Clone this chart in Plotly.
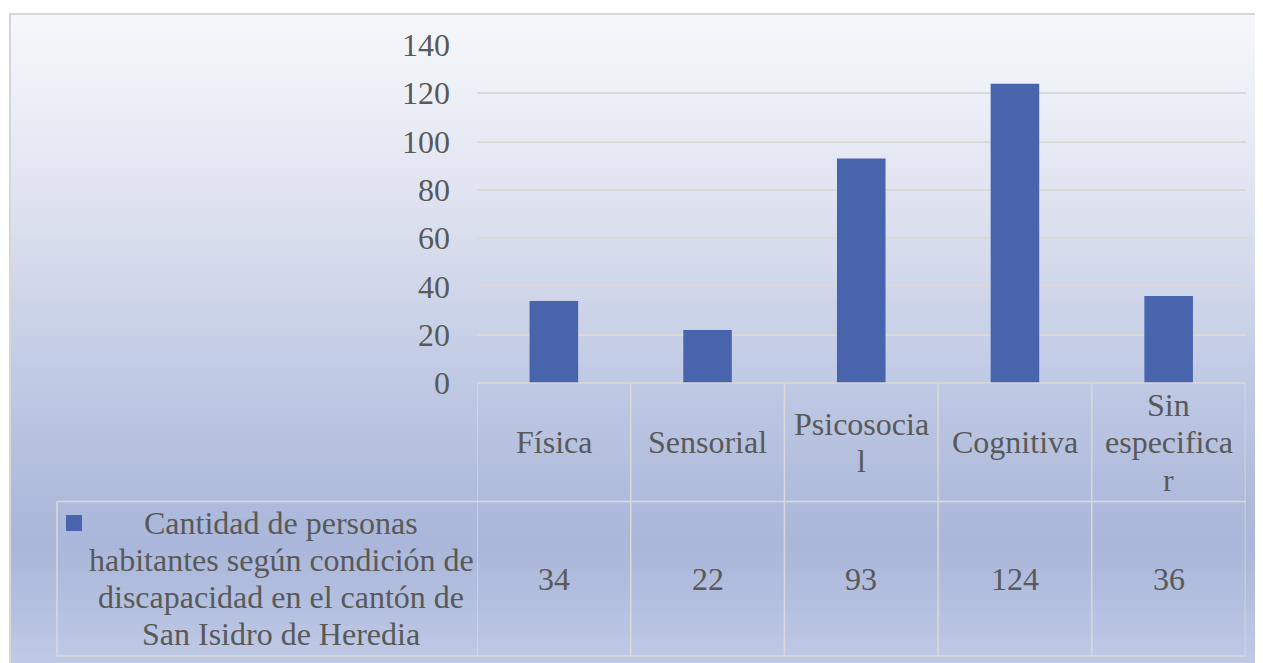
import plotly.graph_objects as go

# ---- data ----
categories = ["Física", "Sensorial", "Psicosocial", "Cognitiva", "Sin especificar"]
category_labels = ["Física", "Sensorial", "Psicosocia\nl", "Cognitiva", "Sin\nespecifica\nr"]
values = [34, 22, 93, 124, 36]
series_name = "Cantidad de personas habitantes según condición de discapacidad en el cantón de San Isidro de Heredia"
series_label_lines = ["Cantidad de personas", "habitantes según condición de",
                      "discapacidad en el cantón de", "San Isidro de Heredia"]
y_ticks = [0, 20, 40, 60, 80, 100, 120, 140]

W, H = 1263, 663
OFF = 8  # page body margin offset
FONT = "Liberation Serif"
FS = 32
TXT = "#595959"
GRID = "#d9d9d9"
BAR = "#4864ad"

def px_x(x):
    return (x - OFF) / W

def px_y(y):
    return 1 - (y - OFF) / H

# plot area in pixels (page coordinates)
PL, PR, PT, PB = 477, 1245.5, 45, 383
HDR_B, ROW_B = 501.5, 656
LEG_L = 57

fig = go.Figure()
fig.add_trace(go.Bar(x=categories, y=values, marker=dict(color=BAR, line=dict(width=0)),
                     name=series_name, showlegend=False))

shapes = []
# gradient background
stops = [(14, (246, 247, 251)), (100, (236, 239, 247)), (200, (223, 227, 240)),
         (300, (206, 213, 233)), (400, (189, 199, 227)), (500, (175, 187, 220)),
         (545, (170, 183, 218)), (600, (179, 191, 223)), (670, (193, 203, 231))]

def col_at(y):
    for (y0, c0), (y1, c1) in zip(stops[:-1], stops[1:]):
        if y0 <= y <= y1:
            t = (y - y0) / (y1 - y0)
            return tuple(round(a + (b - a) * t) for a, b in zip(c0, c1))
    return stops[-1][1]

step = 4
y = 14
while y < 672:
    yb = y + step
    c = col_at((y + yb) / 2)
    shapes.append(dict(type="rect", xref="paper", yref="paper", layer="below",
                       x0=px_x(10), x1=1.01, y0=px_y(yb) - 0.001, y1=px_y(y),
                       fillcolor="rgb(%d,%d,%d)" % c, line=dict(width=0)))
    y = yb
# outer border
shapes.append(dict(type="rect", xref="paper", yref="paper", layer="below",
                   x0=px_x(10), x1=1.02, y0=-0.02, y1=px_y(14),
                   fillcolor="rgba(0,0,0,0)", line=dict(color="#d6d6d6", width=2)))

# table lines
n = len(categories)
for b in [i - 0.5 for i in range(n + 1)]:
    shapes.append(dict(type="line", xref="x", yref="paper", x0=b, x1=b,
                       y0=px_y(ROW_B), y1=px_y(PB), line=dict(color=GRID, width=1.5)))
shapes.append(dict(type="line", xref="paper", yref="paper", x0=px_x(PL), x1=px_x(PR),
                   y0=px_y(PB), y1=px_y(PB), line=dict(color=GRID, width=1.5)))
for yy in [HDR_B, ROW_B]:
    shapes.append(dict(type="line", xref="paper", yref="paper", x0=px_x(LEG_L), x1=px_x(PR),
                       y0=px_y(yy), y1=px_y(yy), line=dict(color=GRID, width=1.5)))
shapes.append(dict(type="line", xref="paper", yref="paper", x0=px_x(LEG_L), x1=px_x(LEG_L),
                   y0=px_y(ROW_B), y1=px_y(HDR_B), line=dict(color=GRID, width=1.5)))
# legend key
shapes.append(dict(type="rect", xref="paper", yref="paper", x0=px_x(66), x1=px_x(82),
                   y0=px_y(531), y1=px_y(515), fillcolor=BAR, line=dict(width=0)))

annotations = []
LS = 37.5
hdr_c = (PB + HDR_B) / 2
row_c = (HDR_B + ROW_B) / 2
for cat, lab, v in zip(categories, category_labels, values):
    lines = lab.split("\n")
    k = len(lines)
    for j, ln in enumerate(lines):
        yc = hdr_c + (j - (k - 1) / 2) * LS
        annotations.append(dict(x=cat, xref="x", y=px_y(yc), yref="paper", text=ln,
                                showarrow=False, xanchor="center", yanchor="middle",
                                font=dict(family=FONT, size=FS, color=TXT)))
    annotations.append(dict(x=cat, xref="x", y=px_y(row_c), yref="paper", text=str(v),
                            showarrow=False, xanchor="center", yanchor="middle",
                            font=dict(family=FONT, size=FS, color=TXT)))
k = len(series_label_lines)
for j, ln in enumerate(series_label_lines):
    yc = row_c + (j - (k - 1) / 2) * 37
    annotations.append(dict(x=px_x(281), xref="paper", y=px_y(yc), yref="paper", text=ln,
                            showarrow=False, xanchor="center", yanchor="middle",
                            font=dict(family=FONT, size=FS, color=TXT)))

fig.update_layout(
    template="none",
    width=W, height=H,
    margin=dict(l=0, r=0, t=0, b=0, pad=0, autoexpand=False),
    paper_bgcolor="white", plot_bgcolor="rgba(0,0,0,0)",
    bargap=0.684,
    shapes=shapes, annotations=annotations,
    xaxis=dict(domain=[px_x(PL), px_x(PR)], range=[-0.5, n - 0.5], showticklabels=False,
               showgrid=False, zeroline=False, showline=False, ticks="", automargin=False),
    yaxis=dict(domain=[px_y(PB), px_y(PT)], range=[0, 140], tickvals=y_ticks,
               showgrid=True, gridcolor=GRID, gridwidth=1.5, zeroline=False, showline=False,
               ticks="", ticklabelstandoff=26, automargin=False,
               tickfont=dict(family=FONT, size=FS, color=TXT)),
    font=dict(family=FONT, color=TXT),
)

fig.write_html("out.html")
